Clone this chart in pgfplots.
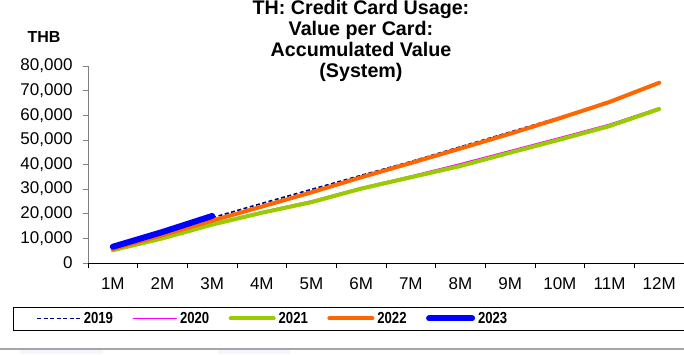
\documentclass[border=0pt]{standalone}
\usepackage{fontspec}
\setmainfont{Liberation Sans}
\newfontfamily\legfont[FakeStretch=0.82]{Liberation Sans}
\usepackage{pgfplots}
\pgfplotsset{compat=1.18}

\definecolor{c2019}{HTML}{000080}
\definecolor{c2020}{HTML}{FF00FF}
\definecolor{c2021}{HTML}{99CC00}
\definecolor{c2022}{HTML}{FF6600}
\definecolor{c2023}{HTML}{0000FF}

\pgfplotstableread{
m   y2019  y2020  y2021  y2022
1   6000   5500   5200   5700
2   12000  10300  10000  11300
3   18400  16000  15600  17200
4   24200  20800  20400  22900
5   29900  25200  24700  28700
6   35600  30600  30200  34800
7   41200  35300  34800  40600
8   47200  40300  39400  46500
9   53200  45600  44800  52500
10  59200  50900  50100  58800
11  65200  56300  55600  65400
12  73000  63000  62500  73200
}\cardvalue

\begin{document}
\begin{tikzpicture}[x=1pt,y=1pt]
\useasboundingbox (0,0) rectangle (684,354);
\begin{axis}[
    at={(88pt,91pt)}, anchor=south west,
    scale only axis,
    width=596pt, height=197pt,
    xmin=0.5, xmax=12.5,
    ymin=0, ymax=80000,
    axis x line*=bottom,
    axis y line*=left,
    x axis line style={-, black, line width=0.8pt},
    y axis line style={-, gray, line width=0.8pt},
    tick align=outside,
    xtick={1,...,12},
    xticklabels={1M,2M,3M,4M,5M,6M,7M,8M,9M,10M,11M,12M},
    minor xtick={0.5,1.5,...,12.5},
    major x tick style={draw=none},
    minor x tick style={draw=black, line width=0.6pt},
    minor tick length=5pt,
    ytick={0,10000,...,80000},
    major tick length=5pt,
    y tick style={draw=gray, line width=0.6pt},
    scaled y ticks=false,
    yticklabel style={/pgf/number format/fixed, /pgf/number format/1000 sep={,}, xshift=-7pt},
    xticklabel style={yshift=-6pt},
    /pgf/number format/assume math mode=true,
    tick label style={font=\fontsize{17}{19}\selectfont, text=black},
    title={TH: Credit Card Usage:\\Value per Card:\\Accumulated Value\\(System)},
    title style={at={(axis description cs:0.458,1.097)}, anchor=center, align=center,
        font=\fontsize{19.7}{20.7}\selectfont\bfseries},
    legend columns=5,
    legend style={at={(axis description cs:-0.0872,-0.2817)}, anchor=west,
        draw=none, fill=none, inner sep=0pt,
        font=\fontsize{16}{19}\selectfont\legfont\bfseries,
        nodes={inner xsep=0pt, inner ysep=1pt},
        /tikz/every even column/.append style={column sep=19.5pt},
        /tikz/every odd column/.append style={column sep=3pt}},
    legend image code/.code={\draw[#1] (0pt,0pt) -- (43pt,0pt);},
    every axis plot/.append style={line cap=round, line join=round},
]
\addplot[c2019, line width=1.6pt, dash pattern=on 4pt off 2.5pt, line cap=butt] table[x=m, y=y2019] {\cardvalue};
\addlegendentry{2019}
\addplot[c2020, line width=1.5pt] table[x=m, y=y2020] {\cardvalue};
\addlegendentry{2020}
\addplot[c2021, line width=4pt] table[x=m, y=y2021] {\cardvalue};
\addlegendentry{2021}
\addplot[c2022, line width=4pt] table[x=m, y=y2022] {\cardvalue};
\addlegendentry{2022}
\addplot[c2023, line width=6pt] coordinates {(1,6600) (2,12600) (3,19100)};
\addlegendentry{2023}
\end{axis}
\node[font=\fontsize{16}{19}\selectfont\bfseries] at (44,317) {THB};
\draw[black, line width=1pt] (13,24) rectangle (700,47);
\fill[blue!4] (20,0) rectangle (103,4);
\fill[blue!4] (218,0) rectangle (290,4);
\draw[gray!70, line width=1.5pt] (0,5) -- (684,5);
\end{tikzpicture}
\end{document}
